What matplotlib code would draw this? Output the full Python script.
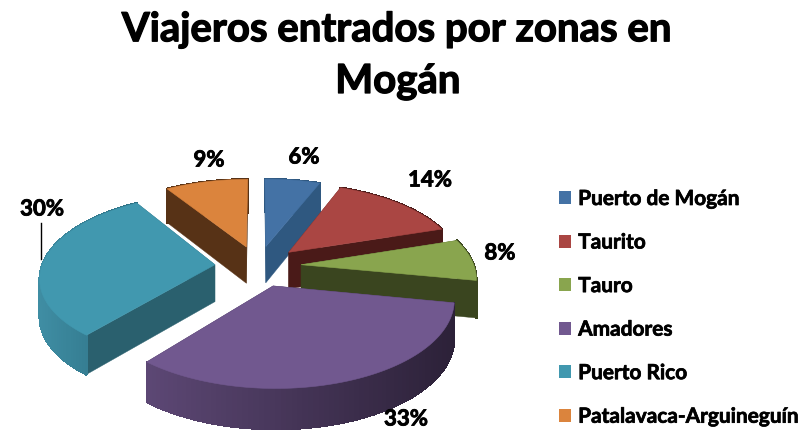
import numpy as np
import matplotlib
matplotlib.use("Agg")
import matplotlib.pyplot as plt
import matplotlib.patheffects as pe
from matplotlib.patches import Polygon, Patch
from matplotlib.collections import PolyCollection
from matplotlib.colors import to_rgb

plt.rcParams['font.family'] = ['Lato', 'DejaVu Sans']

title_lines = ["Viajeros entrados por zonas en", "Mogán"]
zones = ["Puerto de Mogán", "Taurito", "Tauro", "Amadores", "Puerto Rico", "Patalavaca-Arguineguín"]
shares = [6, 14, 8, 33, 30, 9]
top_colors = ["#4472A5", "#AA4643", "#89A54E", "#71588F", "#4198AF", "#DB843D"]
side_colors = ["#2F5880", "#4A1A18", "#3A451F", "#3A2C4C", "#2A606E", "#573216"]
rim_left = ["#2F5880", "#4A1A18", "#3A451F", "#5C4774", "#3F8DA3", "#573216"]
rim_right = ["#2F5880", "#4A1A18", "#3A451F", "#2C2138", "#2C6F82", "#573216"]
label_xy = [(304, 157), (430, 180), (500, 253), (406, 419), (42, 209), (209, 160)]

W, H = 805, 430
CX, CY, A, B, K, EXPL = 258, 266, 173, 82, 0.14, 0.25


def project(x, y, drop=False):
    s = 1 / (1 + K * y)
    px = CX + A * x * s
    py = CY - B * y * s
    if drop:
        py = py + 37 - 3 * y
    return np.column_stack([px, py])


fig = plt.figure(figsize=(W / 100, H / 100), dpi=100)
ax = fig.add_axes([0, 0, 1, 1])
ax.set_xlim(0, W)
ax.set_ylim(H, 0)
ax.axis("off")

vals = np.array(shares, dtype=float)
edges = np.concatenate([[0], np.cumsum(vals)]) / vals.sum() * 2 * np.pi
order = [5, 0, 1, 2, 4, 3]

for layer, i in enumerate(order, start=1):
    t0, t1 = edges[i], edges[i + 1]
    mid = (t0 + t1) / 2
    ox, oy = EXPL * np.sin(mid), EXPL * np.cos(mid)
    th = np.linspace(t0, t1, 80)
    rx, ry = ox + np.sin(th), oy + np.cos(th)
    rim_top = project(rx, ry)
    rim_bot = project(rx, ry, True)
    apex_top = project(np.array([ox]), np.array([oy]))
    apex_bot = project(np.array([ox]), np.array([oy]), True)
    # radial walls
    for k in (0, -1):
        ax.add_patch(Polygon([apex_top[0], rim_top[k], rim_bot[k], apex_bot[0]],
                             closed=True, fc=side_colors[i], ec=side_colors[i], lw=0.3, zorder=layer))
    # rim wall with horizontal shading
    quads = [[rim_top[j], rim_top[j + 1], rim_bot[j + 1], rim_bot[j]] for j in range(len(th) - 1)]
    xm = rim_top[:-1, 0]
    f = np.clip((xm - xm.min()) / max(np.ptp(xm), 1), 0, 1)
    c0, c1 = np.array(to_rgb(rim_left[i])), np.array(to_rgb(rim_right[i]))
    cols = [tuple(c0 + (c1 - c0) * v) for v in f]
    ax.add_collection(PolyCollection(quads, facecolors=cols, edgecolors=cols, linewidths=1.0,
                                     antialiased=False, zorder=layer))
    # top face
    ax.add_patch(Polygon(np.vstack([apex_top, rim_top]), closed=True,
                         fc=top_colors[i], ec=top_colors[i], lw=0.4, zorder=layer))

heavy = [pe.withStroke(linewidth=0.6, foreground="black")]
for (x, y), v in zip(label_xy, shares):
    ax.text(x, y, f"{v}%", ha="center", va="center", fontsize=16, fontweight="bold", color="black",
            zorder=20, path_effects=heavy)
ax.plot([41, 41], [223, 259], color="black", lw=1, zorder=20)

title_fx = [pe.withStroke(linewidth=0.9, foreground="black")]
ax.text(397.5, 30, title_lines[0], ha="center", va="center", fontsize=28.9, fontweight="bold", color="black",
        path_effects=title_fx)
ax.text(398, 82, title_lines[1], ha="center", va="center", fontsize=28.9, fontweight="bold", color="black",
        path_effects=title_fx)

handles = [Patch(fc=c, ec="none") for c in top_colors]
leg = ax.legend(handles, zones, loc="upper left", bbox_to_anchor=(559 / W, 1 - 189 / H), frameon=False,
                prop={"weight": "bold", "size": 15.0}, handlelength=0.58, handleheight=0.58, handletextpad=0.34,
                labelspacing=1.13, borderpad=0, borderaxespad=0)
for t in leg.get_texts():
    t.set_path_effects([pe.withStroke(linewidth=0.5, foreground="black")])

fig.savefig("out.png", dpi=100)
